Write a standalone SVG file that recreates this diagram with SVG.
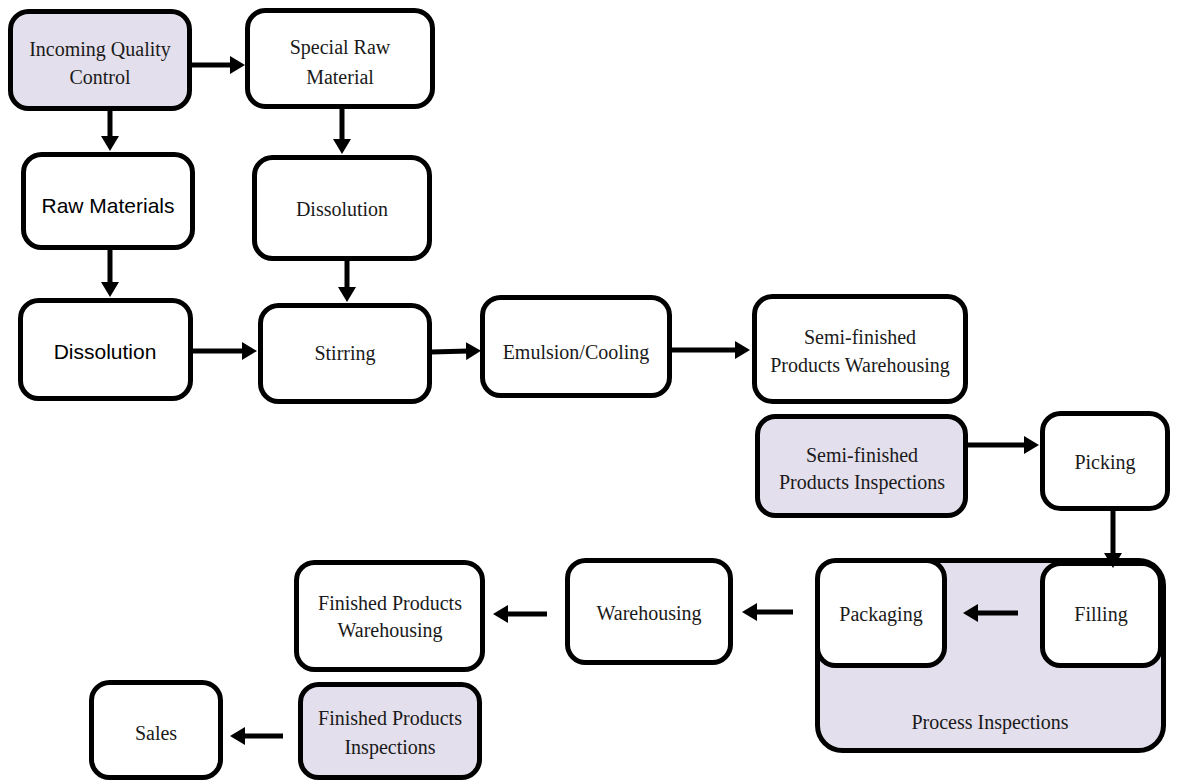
<svg xmlns="http://www.w3.org/2000/svg" width="1181" height="782" viewBox="0 0 1181 782">
<style>
.box{fill:#ffffff;stroke:#000;stroke-width:5}
.hl{fill:#e4dfec;stroke:#000;stroke-width:5}
.t{font-family:"Liberation Serif","Times New Roman",serif;font-size:20px;fill:#1a1a1a;text-anchor:middle;dominant-baseline:central}
.s{font-family:"Liberation Sans",Arial,sans-serif;font-size:21px;fill:#000;text-anchor:middle;dominant-baseline:central}
.c{fill:none;stroke:#000;stroke-width:5;marker-end:url(#ah)}
</style>
<defs>
<marker id="ah" markerUnits="userSpaceOnUse" markerWidth="15" markerHeight="18" viewBox="0 0 15 18" refX="3" refY="9" orient="auto">
<path d="M0,0 L15,9 L0,18 z" fill="#000"/>
</marker>
</defs>
<rect width="1181" height="782" fill="#fff"/>
<g id="n-iqc"><rect class="hl" x="10.5" y="11.5" width="179" height="97" rx="18"/><text class="t" x="100" y="49">Incoming Quality</text><text class="t" x="100" y="77">Control</text></g>
<g id="n-special"><rect class="box" x="247.5" y="10.5" width="185" height="96" rx="18"/><text class="t" x="340" y="47">Special Raw</text><text class="t" x="340" y="77">Material</text></g>
<g id="n-raw"><rect class="box" x="23.5" y="154.5" width="169" height="93" rx="18"/><text class="s" x="108" y="205">Raw Materials</text></g>
<g id="n-diss2"><rect class="box" x="254.5" y="157.5" width="175" height="101" rx="18"/><text class="t" x="342" y="209">Dissolution</text></g>
<g id="n-diss1"><rect class="box" x="20.5" y="300.5" width="170" height="98" rx="18"/><text class="s" x="105" y="351">Dissolution</text></g>
<g id="n-stir"><rect class="box" x="260.5" y="305.5" width="169" height="96" rx="18"/><text class="t" x="345" y="353">Stirring</text></g>
<g id="n-emul"><rect class="box" x="482.5" y="297.5" width="187" height="98" rx="18"/><text class="t" x="576" y="352">Emulsion/Cooling</text></g>
<g id="n-semiwh"><rect class="box" x="754.5" y="296.5" width="211" height="105" rx="18"/><text class="t" x="860" y="337">Semi-finished</text><text class="t" x="860" y="365">Products Warehousing</text></g>
<g id="n-semiinsp"><rect class="hl" x="757.5" y="416.5" width="208" height="99" rx="18"/><text class="t" x="862" y="455">Semi-finished</text><text class="t" x="862" y="482">Products Inspections</text></g>
<g id="n-pick"><rect class="box" x="1042.5" y="413.5" width="125" height="95" rx="18"/><text class="t" x="1105" y="462">Picking</text></g>
<g id="n-process"><rect class="hl" x="817.5" y="560.5" width="346" height="190" rx="25"/><text class="t" x="990" y="722">Process Inspections</text></g>
<g id="n-pack"><rect class="box" x="817.5" y="560.5" width="127" height="105" rx="18"/><text class="t" x="881" y="614">Packaging</text></g>
<g id="n-fill"><rect class="box" x="1042.5" y="563.5" width="118" height="102" rx="18"/><text class="t" x="1101" y="614">Filling</text></g>
<g id="n-wh"><rect class="box" x="567.5" y="560.5" width="163" height="102" rx="18"/><text class="t" x="649" y="613">Warehousing</text></g>
<g id="n-fpw"><rect class="box" x="296.5" y="562.5" width="186" height="107" rx="18"/><text class="t" x="390" y="603">Finished Products</text><text class="t" x="390" y="630">Warehousing</text></g>
<g id="n-fpi"><rect class="hl" x="300.5" y="684.5" width="179" height="93" rx="18"/><text class="t" x="390" y="718">Finished Products</text><text class="t" x="390" y="747">Inspections</text></g>
<g id="n-sales"><rect class="box" x="91.5" y="682.5" width="129" height="95" rx="18"/><text class="t" x="156" y="733">Sales</text></g>
<g id="connectors">
<path class="c" d="M192,65 L233,65"/>
<path class="c" d="M110,110 L110,139"/>
<path class="c" d="M342,108 L342,142"/>
<path class="c" d="M110,250 L110,285"/>
<path class="c" d="M347,260 L347,290"/>
<path class="c" d="M192,351 L245,351"/>
<path class="c" d="M431,352 L469,351"/>
<path class="c" d="M671,350 L738,350"/>
<path class="c" d="M968,445 L1027,445"/>
<path class="c" d="M1113,510 L1113,556"/>
<path class="c" d="M1018,613 L975,613"/>
<path class="c" d="M793,612 L754,612"/>
<path class="c" d="M547,614 L505,614"/>
<path class="c" d="M283,736 L242,736"/>
</g>
</svg>
